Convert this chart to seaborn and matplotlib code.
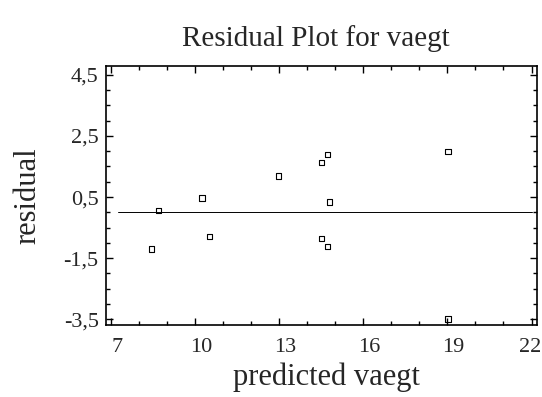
import matplotlib
matplotlib.use("Agg")
import matplotlib.pyplot as plt
import matplotlib.transforms as mtransforms
import seaborn as sns
import pandas as pd
from matplotlib.ticker import MultipleLocator

predicted = [8.44, 8.71, 10.25, 10.51, 12.98, 14.50, 14.74, 14.79, 14.50, 14.74, 19.02, 19.02]
residual = [-1.20, 0.06, 0.47, -0.78, 1.19, 1.64, 1.88, 0.34, -0.86, -1.11, 2.00, -3.49]
xticks = [7, 10, 13, 16, 19, 22]
yticks = [-3.5, -1.5, 0.5, 2.5, 4.5]
ytick_labels = ["-3,5", "-1,5", "0,5", "2,5", "4,5"]
zero_line_x = [7.27, 22.0]

df = pd.DataFrame({"predicted vaegt": predicted, "residual": residual})

sns.set_style("white")
plt.rcParams["font.family"] = ["Liberation Serif", "DejaVu Serif"]

fig = plt.figure(figsize=(5.42, 3.97), dpi=100)
ax = fig.add_axes([0.195, 0.181, 0.795, 0.653])

sns.scatterplot(data=df, x="predicted vaegt", y="residual", ax=ax,
                marker="s", s=14, facecolor="none", edgecolor="black",
                linewidth=0.8)
ax.plot(zero_line_x, [0, 0], color="black", linewidth=0.7)

ax.set_xlim(6.82, 22.18)
ax.set_ylim(-3.69, 4.79)
ax.set_xticks(xticks)
ax.set_xticklabels([str(t) for t in xticks])
ax.set_yticks(yticks)
ax.set_yticklabels(ytick_labels)
ax.xaxis.set_minor_locator(MultipleLocator(1))
ax.yaxis.set_minor_locator(MultipleLocator(0.5))
ax.tick_params(which="both", direction="in", top=True, right=True,
               bottom=True, left=True, color="black", width=1.0)
ax.tick_params(which="major", length=5, labelsize=16)
ax.tick_params(axis="x", which="major", pad=9)
ax.tick_params(axis="y", which="major", pad=5)
ax.tick_params(which="minor", length=3)
for sp in ax.spines.values():
    sp.set_color("black")
    sp.set_linewidth(1.2)

# x tick labels sit slightly right of their ticks in the reference
labels = ax.get_xticklabels()
for i, lbl in enumerate(labels):
    if i == len(labels) - 1:
        lbl.set_horizontalalignment("right")
        dx = 10
    else:
        dx = 6
    off = mtransforms.ScaledTranslation(dx / 100, 0, fig.dpi_scale_trans)
    lbl.set_transform(lbl.get_transform() + off)

ax.set_title("Residual Plot for vaegt", fontsize=21, pad=14, x=0.488)
ax.set_xlabel("predicted vaegt", fontsize=22, labelpad=4, x=0.513)
ax.set_ylabel("residual", fontsize=22, labelpad=15)

fig.savefig("out.png", dpi=100)
